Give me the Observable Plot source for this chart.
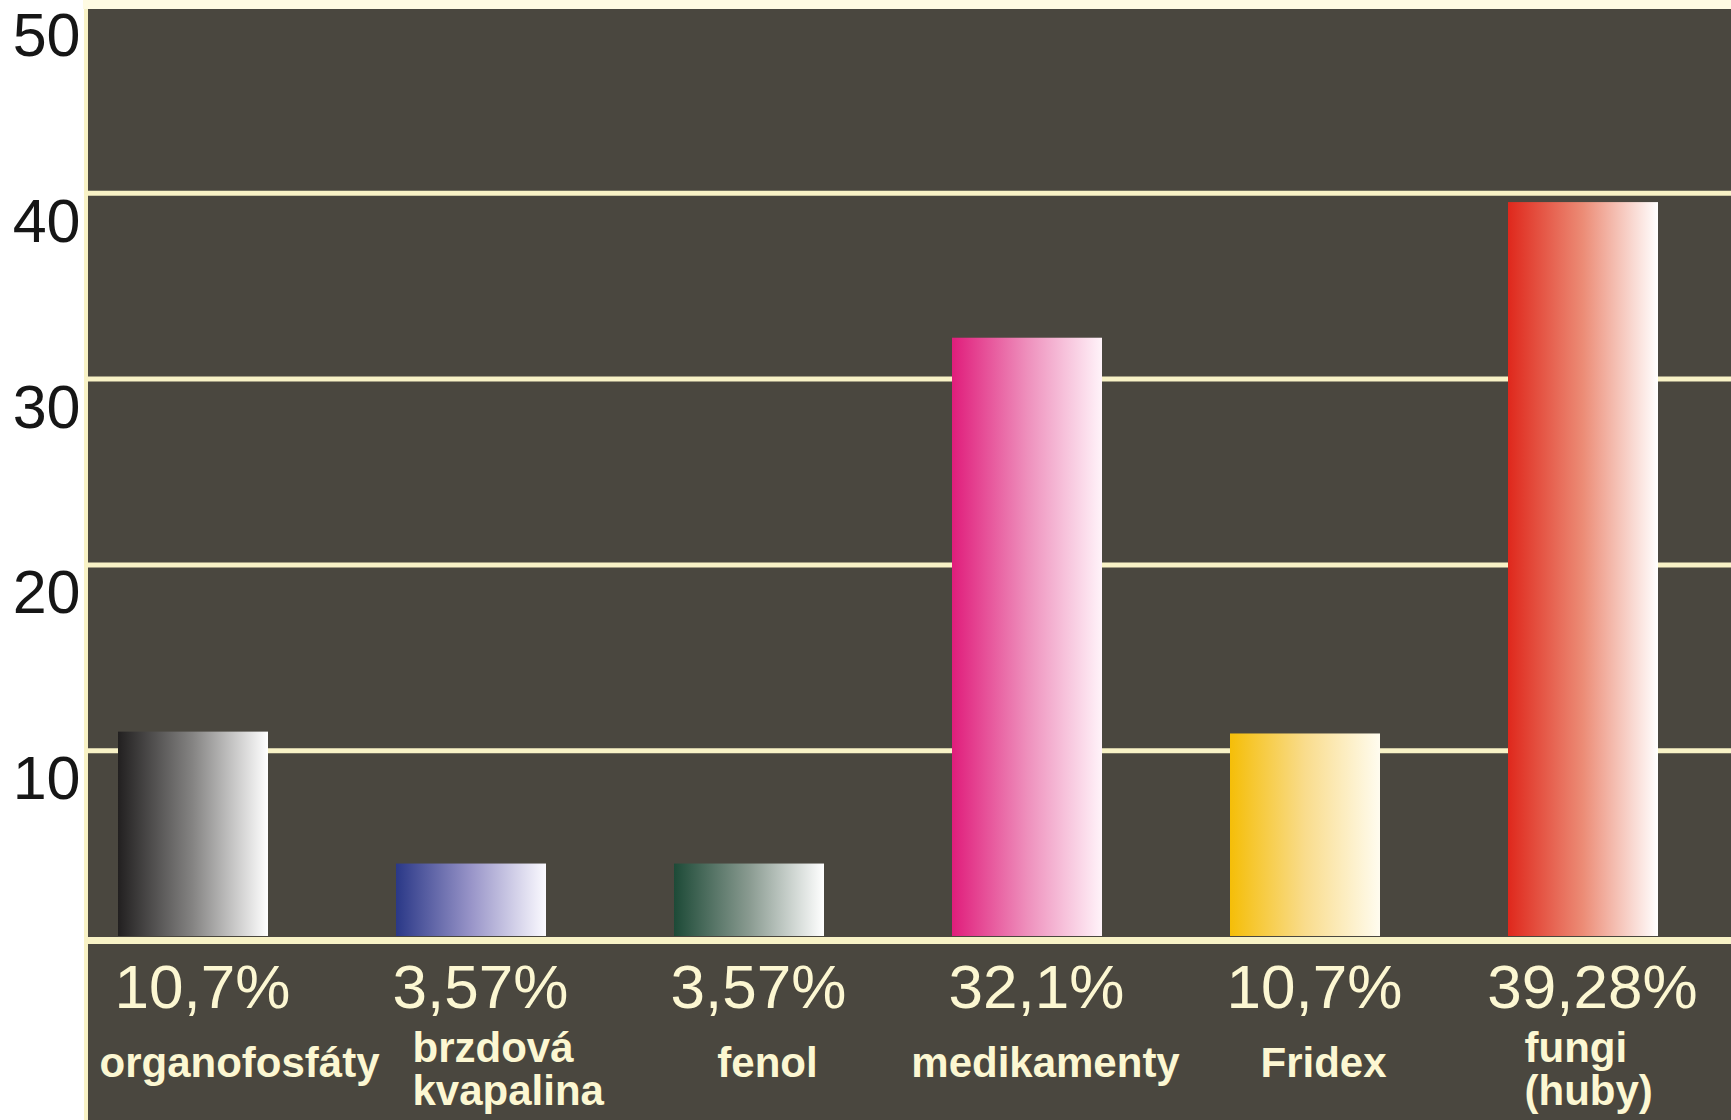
<!DOCTYPE html>
<html>
<head>
<meta charset="utf-8">
<script src="https://cdn.jsdelivr.net/npm/d3@7"></script>
<script src="https://cdn.jsdelivr.net/npm/@observablehq/plot@0.6"></script>
<style>
  html, body { margin: 0; padding: 0; background: #ffffff; width: 1731px; height: 1120px; overflow: hidden; }
  #chart { position: relative; width: 1731px; height: 1120px; }
</style>
</head>
<body>
<div id="chart"></div>
<script>
// ---- data ----
const categories = ["organofosfáty", "brzdová kvapalina", "fenol", "medikamenty", "Fridex", "fungi (huby)"];
const categoryLabels = ["organofosfáty", "brzdová\nkvapalina", "fenol", "medikamenty", "Fridex", "fungi\n(huby)"];
const barValues = [11.0, 3.9, 3.9, 32.2, 10.9, 39.5];
const percentLabels = ["10,7%", "3,57%", "3,57%", "32,1%", "10,7%", "39,28%"];
const yTicks = [10, 20, 30, 40, 50];
const gridValues = [10, 20, 30, 40];

// ---- styling (gradient stops, left -> right) ----
const gradStops = [
  ["#222020", "#858483", "#ffffff"],
  ["#2a3887", "#9894c8", "#fbfaff"],
  ["#1d4a37", "#899a90", "#ffffff"],
  ["#e01d7b", "#ee8fbc", "#fff3f9"],
  ["#f5be08", "#f9dc8c", "#fffcef"],
  ["#df281c", "#ec8c76", "#ffffff"]
];
const cream = "#f8f2c6";
const textCream = "#fcf7d2";
const panel = "#4a473f";

const rows = categories.map((c, i) => ({
  key: c,
  label: categoryLabels[i],
  value: barValues[i],
  pct: percentLabels[i],
  grad: `url(#grad${i})`,
  multi: categoryLabels[i].includes("\n"),
  first: i === 0
}));

const plot = Plot.plot({
  width: 1731,
  height: 1120,
  marginTop: 7,
  marginBottom: 184,
  marginLeft: 86,
  marginRight: 0,
  style: {
    fontFamily: "'Liberation Sans', Arial, sans-serif",
    overflow: "visible",
    background:
      `linear-gradient(#fffbe3, #fffbe3) 83px 0 / calc(100% - 83px) 9px no-repeat, ` +
      `linear-gradient(${cream}, ${cream}) 84px 0 / 4px 100% no-repeat, ` +
      `linear-gradient(${panel}, ${panel}) 88px 9px / calc(100% - 88px) calc(100% - 9px) no-repeat, #ffffff`
  },
  x: { domain: categories, axis: null, paddingInner: 0.46, paddingOuter: 0.1886, align: 0.305 },
  y: { domain: [0, 50], axis: null },
  color: { type: "identity" },
  marks: [
    Plot.ruleY(gridValues, { stroke: cream, strokeWidth: 5 }),
    Plot.barY(rows, { x: "key", y: "value", fill: "grad" }),
    Plot.ruleY([0], { stroke: cream, strokeWidth: 7, dy: 4 }),
    Plot.axisY({
      ticks: yTicks,
      label: null,
      tickSize: 0,
      tickPadding: 6,
      fontSize: 61,
      fill: "#161616",
      dy: 29,
      tickFormat: d => String(d)
    }),
    Plot.text(rows, {
      x: "key", y: () => 0, text: "pct",
      fill: textCream, fontSize: 62, lineAnchor: "bottom", dy: 71, dx: 9
    }),
    Plot.text(rows.filter(d => !d.multi && !d.first), {
      x: "key", y: () => 0, text: "label",
      fill: textCream, fontSize: 42, fontWeight: "bold", lineAnchor: "bottom", dy: 140, dx: 18
    }),
    Plot.text(rows.filter(d => d.first), {
      x: "key", y: () => 0, text: "label",
      fill: textCream, fontSize: 42, fontWeight: "bold", lineAnchor: "bottom",
      textAnchor: "start", dy: 140, dx: -94
    }),
    Plot.text(rows.filter(d => d.multi), {
      x: "key", y: () => 0, text: "label",
      fill: textCream, fontSize: 42, fontWeight: "bold", lineAnchor: "bottom",
      textAnchor: "start", lineHeight: 1.02, dy: 168, dx: -59
    })
  ]
});

// gradient definitions for the bar fills
const svg = d3.select(plot);
const defs = svg.insert("defs", ":first-child");
gradStops.forEach((stops, i) => {
  const g = defs.append("linearGradient")
    .attr("id", `grad${i}`)
    .attr("x1", "0%").attr("x2", "100%").attr("y1", "0%").attr("y2", "0%");
  stops.forEach((c, j) => {
    g.append("stop").attr("offset", `${(j / (stops.length - 1)) * 100}%`).attr("stop-color", c);
  });
});

document.getElementById("chart").appendChild(plot);
</script>
</body>
</html>
